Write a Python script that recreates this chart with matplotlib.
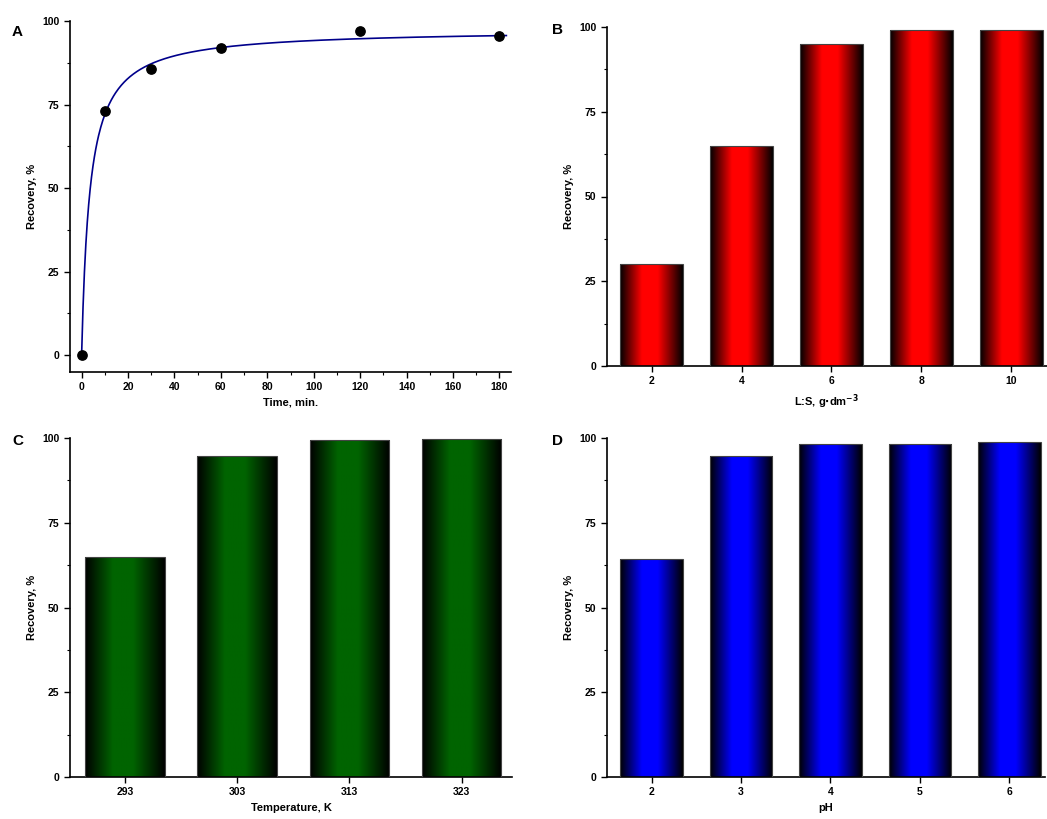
import numpy as np
import matplotlib
matplotlib.use("Agg")
import matplotlib.pyplot as plt
from matplotlib.colors import LinearSegmentedColormap
from matplotlib.ticker import MultipleLocator

plt.rcParams['font.family'] = ['Liberation Sans', 'DejaVu Sans']
plt.rcParams['font.weight'] = 'bold'
plt.rcParams['font.size'] = 7.5

time_min = [0, 10, 30, 60, 120, 180]
recovery_time = [0, 73, 85.5, 92, 97, 95.5]
fit_a, fit_b = 97.5, 3.54

ls_ratio = [2, 4, 6, 8, 10]
recovery_ls = [30, 65, 95, 99, 99]

temperature = [293, 303, 313, 323]
recovery_temp = [65, 94.7, 99.5, 99.7]

ph = [2, 3, 4, 5, 6]
recovery_ph = [64.3, 94.6, 98.3, 98.3, 98.7]

fig = plt.figure(figsize=(10.47, 8.19), dpi=100)
W, H = 1047, 819
def add_ax(x0, y0, x1, y1):
    return fig.add_axes([x0/W, 1-y1/H, (x1-x0)/W, (y1-y0)/H])

def style(ax):
    for s in ['top', 'right']:
        ax.spines[s].set_visible(False)
    ax.spines['left'].set_linewidth(1.2)
    ax.spines['bottom'].set_linewidth(1.2)
    ax.tick_params(which='major', length=4, width=1)
    ax.tick_params(which='minor', length=2.5, width=0.8)
    ax.yaxis.set_major_locator(MultipleLocator(25))
    ax.yaxis.set_minor_locator(MultipleLocator(12.5))
    ax.set_ylabel('Recovery, %', fontweight='bold', fontsize=8)

def grad_bars(ax, xs, ys, width, color):
    cmap = LinearSegmentedColormap.from_list('g', [(0, 'black'), (0.35, color), (0.6, color), (1, 'black')])
    grad = np.linspace(0, 1, 256).reshape(1, -1)
    for x, y in zip(xs, ys):
        r = plt.Rectangle((x - width/2, 0), width, y, facecolor='none', edgecolor='#444444', lw=0.8, zorder=3)
        ax.add_patch(r)
        im = ax.imshow(grad, cmap=cmap, aspect='auto', extent=(x - width/2, x + width/2, 0, y), zorder=2)
        im.set_clip_path(r)

# A
axA = add_ax(70, 21, 511, 372)
style(axA)
tt = np.linspace(0, 183, 600)
axA.plot(tt, fit_a*tt/(fit_b+tt), color='#00008B', lw=1.2, zorder=2)
axA.scatter(time_min, recovery_time, s=45, color='black', zorder=3, clip_on=False)
axA.set_xlim(-5, 185)
axA.set_ylim(-5, 100)
axA.xaxis.set_major_locator(MultipleLocator(20))
axA.xaxis.set_minor_locator(MultipleLocator(10))
axA.set_xlabel('Time, min.', fontweight='bold', fontsize=8)
fig.text(12/W, 1-32/H, 'A', fontsize=11, fontweight='bold', va='center')

# B
axB = add_ax(607, 27, 1047, 366)
style(axB)
grad_bars(axB, ls_ratio, recovery_ls, 1.4, '#ff0000')
axB.set_xlim(1.0, 10.8)
axB.set_ylim(0, 100)
axB.set_xticks(ls_ratio)
axB.set_xlabel('L:S, g$\\cdot$dm$^{-3}$', fontweight='bold', fontsize=8)
fig.text(552/W, 1-30/H, 'B', fontsize=11, fontweight='bold', va='center')

# C
axC = add_ax(70, 438, 512, 777)
style(axC)
grad_bars(axC, temperature, recovery_temp, 7.1, '#006400')
axC.set_xlim(288.1, 327.5)
axC.set_ylim(0, 100)
axC.set_xticks(temperature)
axC.set_xlabel('Temperature, K', fontweight='bold', fontsize=8)
fig.text(12/W, 1-441/H, 'C', fontsize=11, fontweight='bold', va='center')

# D
axD = add_ax(607, 438, 1045, 777)
style(axD)
grad_bars(axD, ph, recovery_ph, 0.7, '#0000ff')
axD.set_xlim(1.5, 6.4)
axD.set_ylim(0, 100)
axD.set_xticks(ph)
axD.set_xlabel('pH', fontweight='bold', fontsize=8)
fig.text(552/W, 1-441/H, 'D', fontsize=11, fontweight='bold', va='center')

fig.savefig('out.png', dpi=100)
